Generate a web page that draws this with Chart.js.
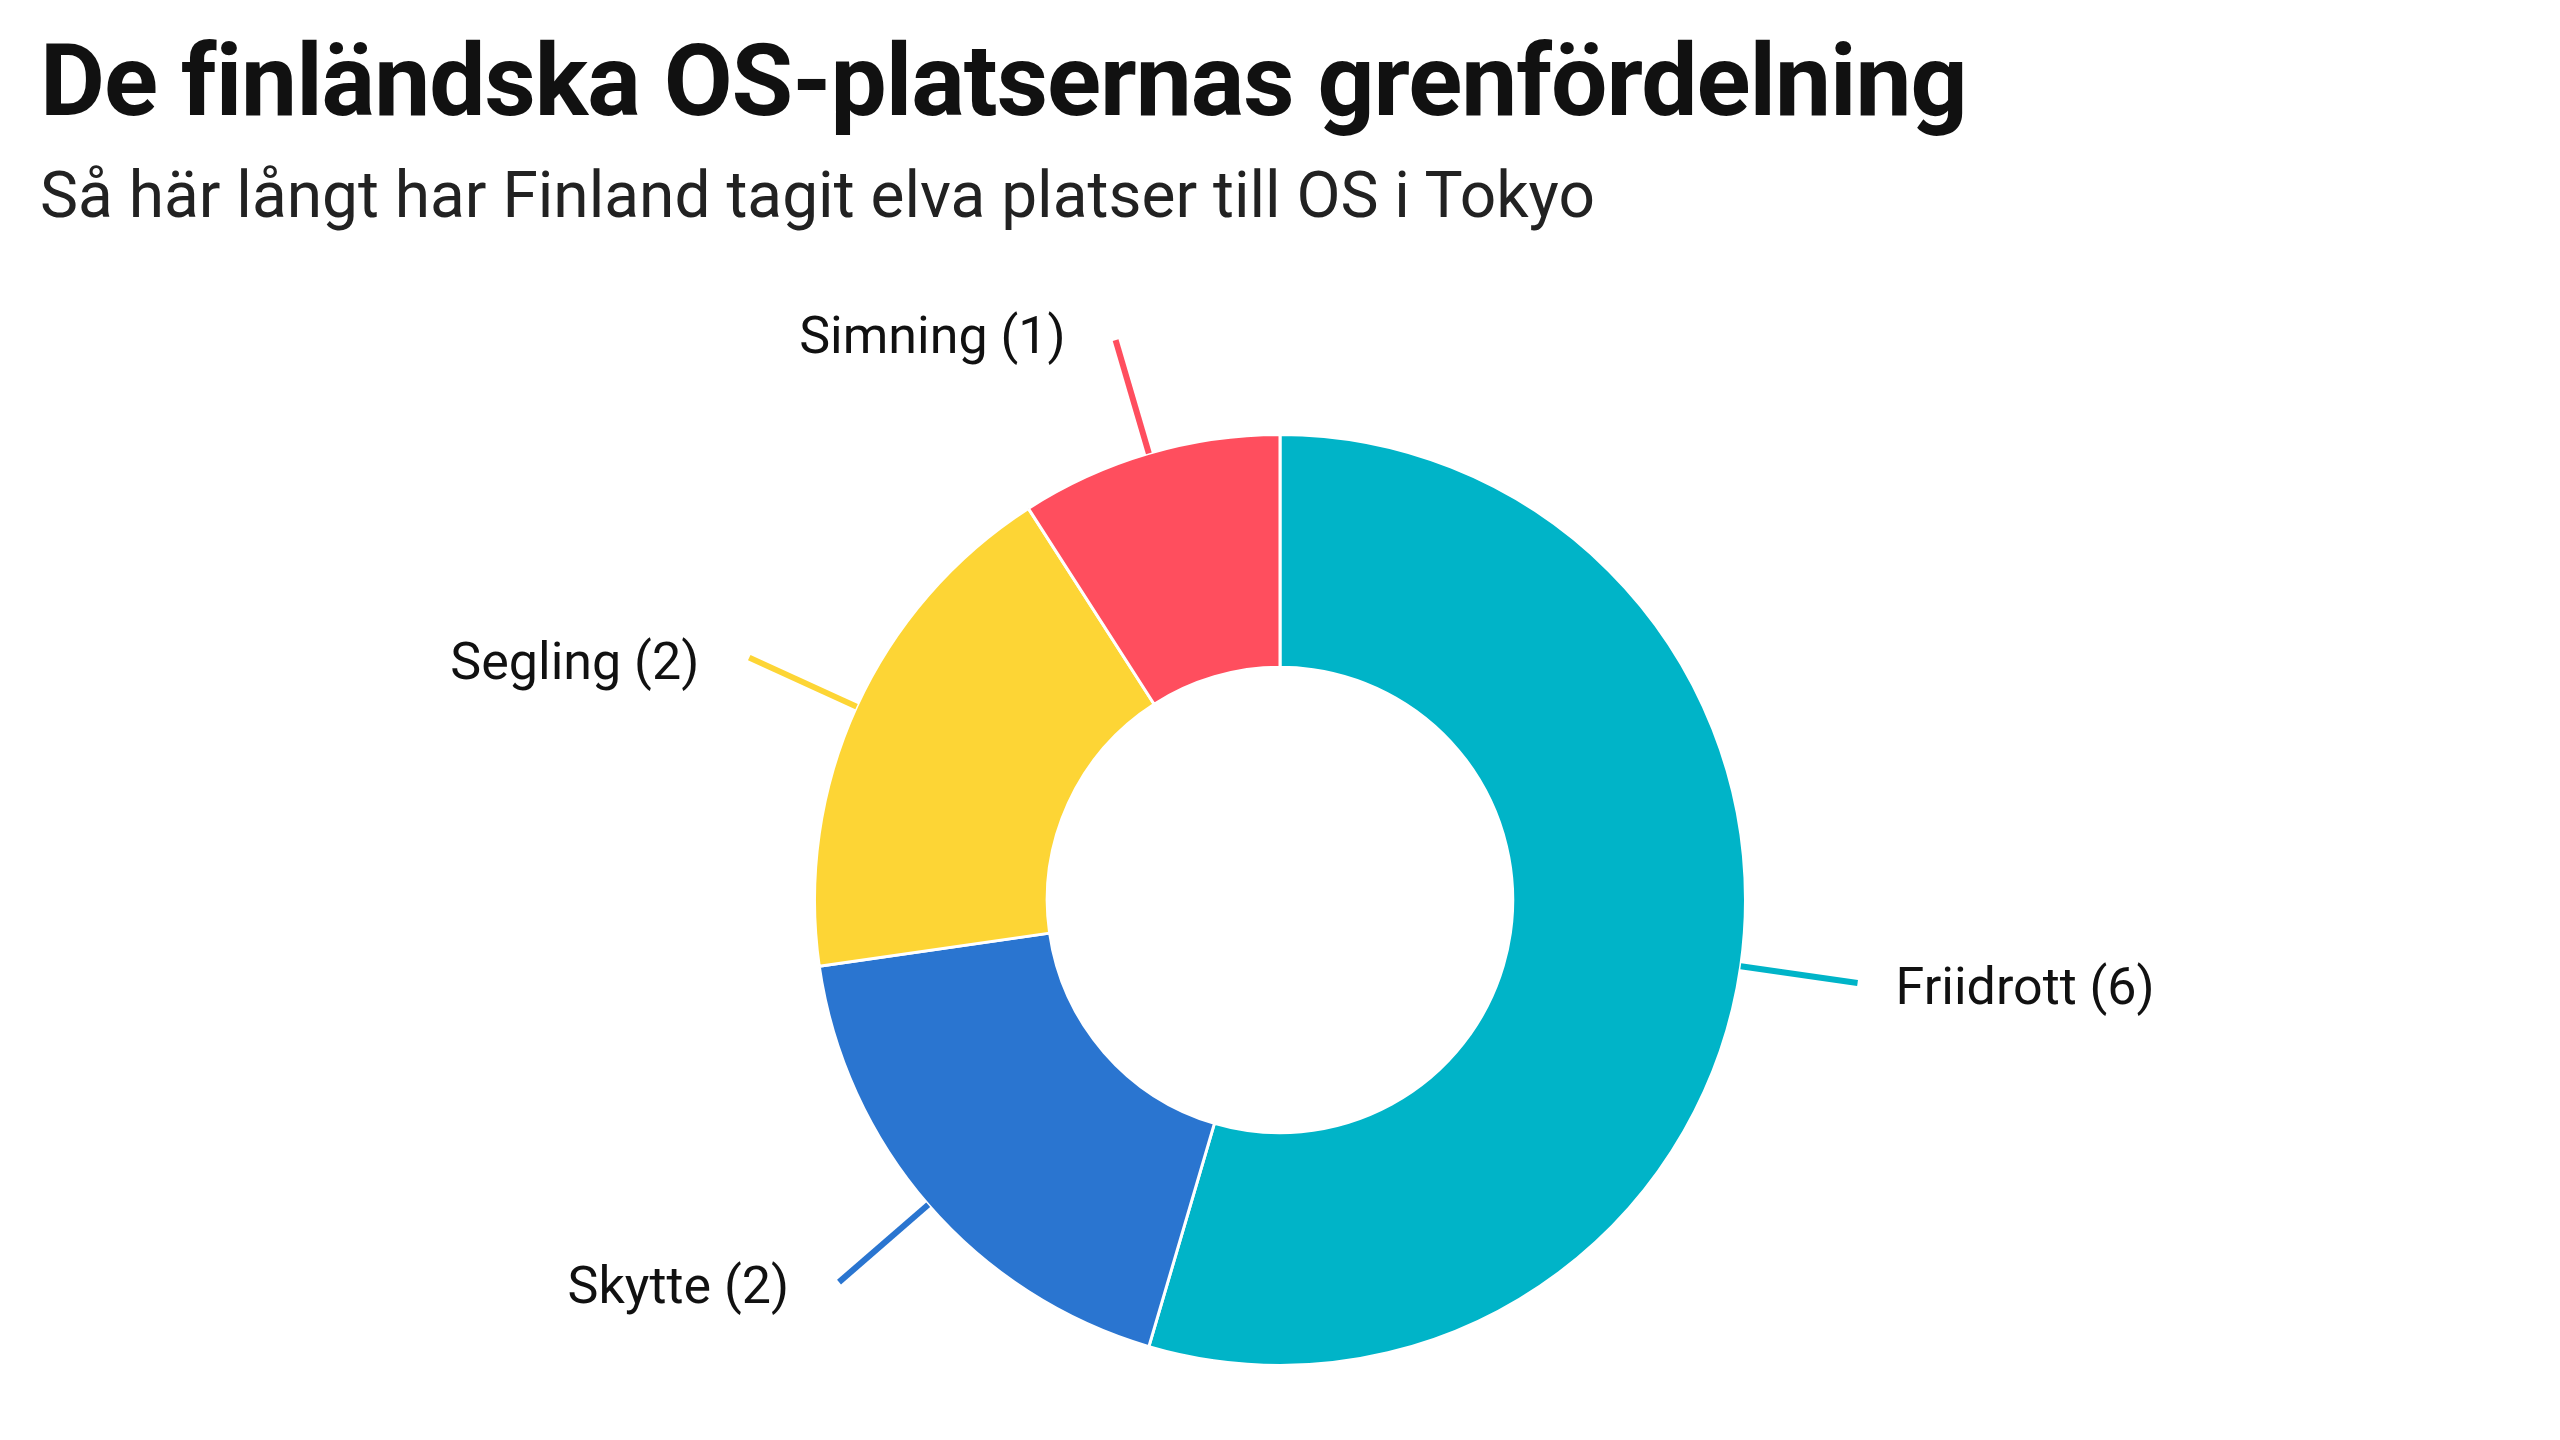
<!DOCTYPE html>
<html><head><meta charset="utf-8">
<script src="https://cdn.jsdelivr.net/npm/chart.js@4/dist/chart.umd.min.js"></script>
<style>
body{margin:0;background:#fff;width:2560px;height:1440px;overflow:hidden;font-family:"Liberation Sans Narrow","Roboto","Noto Sans",sans-serif;}
#t{position:absolute;left:40px;top:22px;font-size:100px;font-weight:bold;color:#111;letter-spacing:-1px}
#s{position:absolute;left:40px;top:158px;font-size:64px;color:#222}
#w{position:absolute;left:0;top:0;width:2560px;height:1440px}
</style></head><body>
<div id="t">De finländska OS-platsernas grenfördelning</div>
<div id="s">Så här långt har Finland tagit elva platser till OS i Tokyo</div>
<div id="w"><canvas id="c"></canvas></div>
<script>
const categories=["Friidrott","Skytte","Segling","Simning"];
const values=[6,2,2,1];
const colors=["#00b4c8","#2a75d0","#fdd535","#ff4e5e"];
const leader={id:'leader',afterDatasetsDraw(ch){
 const ctx=ch.ctx;const meta=ch.getDatasetMeta(0);
 meta.data.forEach((a,i)=>{
  const ang=(a.startAngle+a.endAngle)/2;const r=a.outerRadius;
  const x1=a.x+Math.cos(ang)*r,y1=a.y+Math.sin(ang)*r;
  const x2=a.x+Math.cos(ang)*(r+118),y2=a.y+Math.sin(ang)*(r+118);
  ctx.save();ctx.strokeStyle=colors[i];ctx.lineWidth=6;
  ctx.beginPath();ctx.moveTo(x1,y1);ctx.lineTo(x2,y2);ctx.stroke();
  ctx.fillStyle="#111";ctx.font='52px "Liberation Sans Narrow", Roboto, sans-serif';
  ctx.textBaseline='middle';const right=Math.cos(ang)>=0;
  ctx.textAlign=right?'left':'right';
  ctx.fillText(categories[i]+' ('+values[i]+')',x2+(right?38:-50),y2+(Math.sin(ang)<-0.8?0:8));
  ctx.restore();
 });}};
new Chart(document.getElementById('c'),{type:'doughnut',
 data:{labels:categories,datasets:[{data:values,backgroundColor:colors,borderColor:'#fff',borderWidth:3}]},
 options:{responsive:true,maintainAspectRatio:false,animation:false,cutout:'50%',
  layout:{padding:{top:433,bottom:73,left:0,right:0}},
  plugins:{legend:{display:false},tooltip:{enabled:false}}},
 plugins:[leader]});
</script></body></html>
